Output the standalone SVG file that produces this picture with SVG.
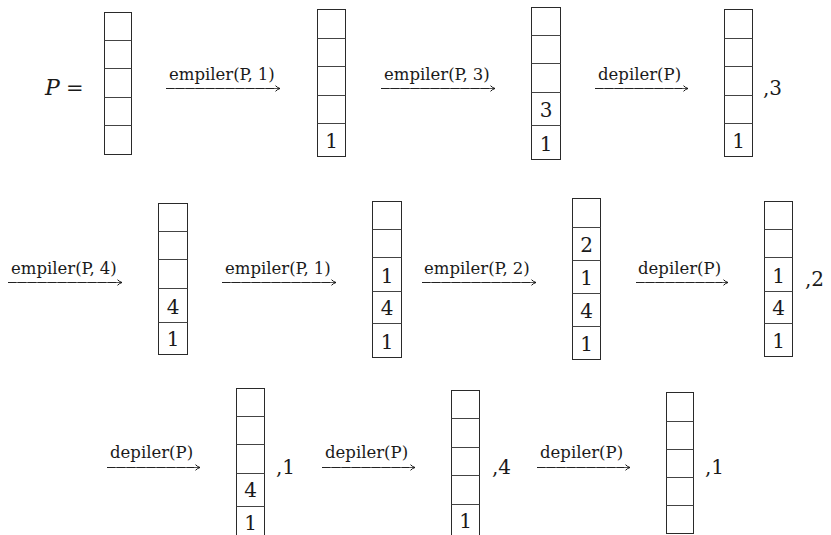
<svg xmlns="http://www.w3.org/2000/svg" width="831" height="535" viewBox="0 0 831 535">
  <style>
    .frame { fill: none; stroke: #2a2a2a; stroke-width: 1; }
    .sep { stroke: #444; stroke-width: 1; }
    .val { font-family: "DejaVu Serif", "Liberation Serif", serif; font-size: 20px; fill: #1a1a1a; text-anchor: middle; }
    .out { font-family: "DejaVu Serif", "Liberation Serif", serif; font-size: 20px; fill: #1a1a1a; }
    .op { font-family: "DejaVu Serif", "Liberation Serif", serif; font-size: 16.5px; fill: #1a1a1a; }
    .shaft { stroke: #555; stroke-width: 1; fill: none; }
    .dash { stroke: #222; stroke-width: 1; stroke-dasharray: 8 2; fill: none; }
  </style>
  <defs>
    <marker id="tip" markerWidth="8" markerHeight="8" refX="6" refY="4" orient="auto" markerUnits="userSpaceOnUse">
      <path d="M1.5,1.2 Q3.5,3.3 6,4 Q3.5,4.7 1.5,6.8" fill="none" stroke="#111" stroke-width="1"/>
    </marker>
  </defs>
  <rect width="831" height="535" fill="#fff"/>

  <!-- row 1 -->
  <g id="init">
    <text x="45" y="95" font-family="DejaVu Serif, serif" font-style="italic" font-size="22" fill="#1a1a1a">P</text>
    <text x="66" y="95" font-family="DejaVu Serif, serif" font-size="21" fill="#1a1a1a">=</text>
    <rect class="frame" x="104.5" y="12.5" width="27" height="142"/>
    <path class="sep" d="M104.5,40.5H131.5M104.5,68.5H131.5M104.5,97.5H131.5M104.5,125.5H131.5"/>
  </g>
  <g id="s1">
    <rect class="frame" x="317.5" y="9.5" width="28" height="147"/>
    <path class="sep" d="M317.5,38.5H345.5M317.5,66.5H345.5M317.5,95.5H345.5M317.5,123.5H345.5"/>
    <text class="val" x="331.5" y="148">1</text>
  </g>
  <g id="s2">
    <rect class="frame" x="531.5" y="7.5" width="29" height="152"/>
    <path class="sep" d="M531.5,35.5H560.5M531.5,63.5H560.5M531.5,92.5H560.5M531.5,125.5H560.5"/>
    <text class="val" x="546" y="117">3</text>
    <text class="val" x="546" y="150.5">1</text>
  </g>
  <g id="s3">
    <rect class="frame" x="724.5" y="9.5" width="28" height="147"/>
    <path class="sep" d="M724.5,38.5H752.5M724.5,66.5H752.5M724.5,95.5H752.5M724.5,123.5H752.5"/>
    <text class="val" x="738.5" y="148">1</text>
    <text class="out" x="763" y="95">,3</text>
  </g>

  <!-- row 2 -->
  <g id="s4">
    <rect class="frame" x="158.5" y="203.5" width="29" height="151"/>
    <path class="sep" d="M158.5,231.5H187.5M158.5,259.5H187.5M158.5,288.5H187.5M158.5,322.5H187.5"/>
    <text class="val" x="173" y="313.5">4</text>
    <text class="val" x="173" y="346">1</text>
  </g>
  <g id="s5">
    <rect class="frame" x="372.5" y="201.5" width="29" height="156"/>
    <path class="sep" d="M372.5,229.5H401.5M372.5,257.5H401.5M372.5,291.5H401.5M372.5,323.5H401.5"/>
    <text class="val" x="387" y="283">1</text>
    <text class="val" x="387" y="315">4</text>
    <text class="val" x="387" y="349">1</text>
  </g>
  <g id="s6">
    <rect class="frame" x="572.5" y="198.5" width="28" height="161"/>
    <path class="sep" d="M572.5,227.5H600.5M572.5,260.5H600.5M572.5,293.5H600.5M572.5,326.5H600.5"/>
    <text class="val" x="586.5" y="252">2</text>
    <text class="val" x="586.5" y="285">1</text>
    <text class="val" x="586.5" y="318">4</text>
    <text class="val" x="586.5" y="351">1</text>
  </g>
  <g id="s7">
    <rect class="frame" x="764.5" y="201.5" width="28" height="155"/>
    <path class="sep" d="M764.5,229.5H792.5M764.5,257.5H792.5M764.5,291.5H792.5M764.5,323.5H792.5"/>
    <text class="val" x="778.5" y="283">1</text>
    <text class="val" x="778.5" y="315">4</text>
    <text class="val" x="778.5" y="348">1</text>
    <text class="out" x="805" y="286">,2</text>
  </g>

  <!-- row 3 -->
  <g id="s8">
    <rect class="frame" x="236.5" y="388.5" width="28" height="151"/>
    <path class="sep" d="M236.5,416.5H264.5M236.5,444.5H264.5M236.5,473.5H264.5M236.5,506.5H264.5"/>
    <text class="val" x="250.5" y="497">4</text>
    <text class="val" x="250.5" y="529.5">1</text>
    <text class="out" x="276" y="474">,1</text>
  </g>
  <g id="s9">
    <rect class="frame" x="451.5" y="390.5" width="28" height="147"/>
    <path class="sep" d="M451.5,418.5H479.5M451.5,447.5H479.5M451.5,475.5H479.5M451.5,504.5H479.5"/>
    <text class="val" x="465.5" y="528">1</text>
    <text class="out" x="492" y="474">,4</text>
  </g>
  <g id="s10">
    <rect class="frame" x="666.5" y="392.5" width="27" height="141"/>
    <path class="sep" d="M666.5,421.5H693.5M666.5,449.5H693.5M666.5,477.5H693.5M666.5,505.5H693.5"/>
    <text class="out" x="705" y="474">,1</text>
  </g>

  <!-- operations -->
  <g id="connectors">
    <g>
      <path class="shaft" d="M166,88.5H280" marker-end="url(#tip)"/>
      <path class="dash" d="M166,88.5H274"/>
      <text class="op" x="169" y="80">empiler(P, 1)</text>
    </g>
    <g>
      <path class="shaft" d="M381,88.5H495" marker-end="url(#tip)"/>
      <path class="dash" d="M381,88.5H489"/>
      <text class="op" x="384" y="80">empiler(P, 3)</text>
    </g>
    <g>
      <path class="shaft" d="M595,88.5H688" marker-end="url(#tip)"/>
      <path class="dash" d="M595,88.5H682"/>
      <text class="op" x="598" y="80">depiler(P)</text>
    </g>
    <g>
      <path class="shaft" d="M8,282.5H122" marker-end="url(#tip)"/>
      <path class="dash" d="M8,282.5H116"/>
      <text class="op" x="11" y="274">empiler(P, 4)</text>
    </g>
    <g>
      <path class="shaft" d="M222,282.5H336" marker-end="url(#tip)"/>
      <path class="dash" d="M222,282.5H330"/>
      <text class="op" x="225" y="274">empiler(P, 1)</text>
    </g>
    <g>
      <path class="shaft" d="M422,282.5H536" marker-end="url(#tip)"/>
      <path class="dash" d="M422,282.5H530"/>
      <text class="op" x="424" y="274">empiler(P, 2)</text>
    </g>
    <g>
      <path class="shaft" d="M636,282.5H728" marker-end="url(#tip)"/>
      <path class="dash" d="M636,282.5H722"/>
      <text class="op" x="638" y="274">depiler(P)</text>
    </g>
    <g>
      <path class="shaft" d="M107,467.5H200" marker-end="url(#tip)"/>
      <path class="dash" d="M107,467.5H194"/>
      <text class="op" x="110" y="458">depiler(P)</text>
    </g>
    <g>
      <path class="shaft" d="M322,467.5H415" marker-end="url(#tip)"/>
      <path class="dash" d="M322,467.5H409"/>
      <text class="op" x="325" y="458">depiler(P)</text>
    </g>
    <g>
      <path class="shaft" d="M537,467.5H630" marker-end="url(#tip)"/>
      <path class="dash" d="M537,467.5H624"/>
      <text class="op" x="540" y="458">depiler(P)</text>
    </g>
  </g>
</svg>
